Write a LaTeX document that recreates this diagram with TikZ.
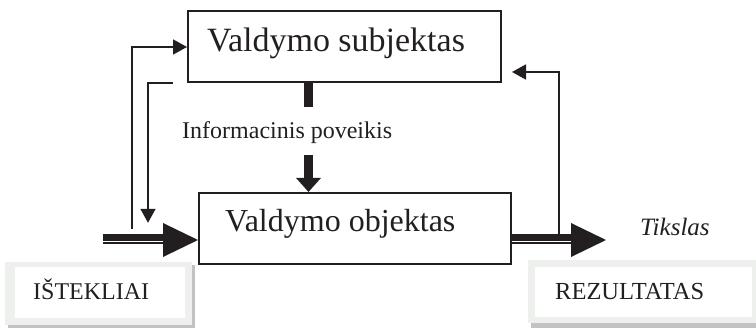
\documentclass[tikz,border=0pt]{standalone}
\usepackage{fontspec}
\setmainfont{Liberation Serif}
\usetikzlibrary{arrows.meta}
\definecolor{ink}{HTML}{231F20}
\definecolor{framegray}{HTML}{EEF0EE}
\definecolor{shadowgray}{HTML}{C2C2C2}
\begin{document}
\begin{tikzpicture}[x=1pt,y=-1pt,
  box/.style={draw=ink, line width=1.8pt, anchor=north west, inner sep=0pt},
  bigtext/.style={font=\fontsize{34}{38}\selectfont, text=ink, inner sep=0pt, anchor=base west},
  midtext/.style={font=\fontsize{24}{28}\selectfont, text=ink, inner sep=0pt, anchor=base west},
  frame/.style={fill=framegray, anchor=north west, inner sep=0pt},
  fb/.style={draw=ink, line width=1.6pt, -{Triangle[length=14pt,width=15pt]}},
  fatline/.style={draw=ink, line width=7pt},
  thinline/.style={draw=ink, line width=2pt}
]
\useasboundingbox (0,0) rectangle (756,328);

% control subject and controlled object
\node[box, minimum width=313pt, minimum height=71pt] (subj) at (187,10) {};
\node[bigtext] (subjlbl) at (207,52) {Valdymo subjektas};
\node[box, minimum width=312pt, minimum height=71pt] (obj) at (198,192) {};
\node[bigtext, font=\fontsize{32}{36}\selectfont] (objlbl) at (225,232) {Valdymo objektas};

% information influence from subject to object
\coordinate (infoX) at (308.5,0);
\draw[draw=ink, line width=9pt] (subj.south -| infoX) -- ++(0,24);
\node[midtext] (info) at (182,139) {Informacinis poveikis};
\coordinate (infoStart) at (308.5,155);
\draw[draw=ink, line width=9pt, -{Triangle[length=14pt,width=24pt]}] (infoStart) -- (obj.north -| infoX);

% resources entering the object
\coordinate (inStart) at (103,240);
\coordinate (inTip) at (obj.west |- inStart);
\draw[fatline] ([yshift=2.5pt]inStart) -- ([yshift=2.5pt,xshift=-34pt]inTip);
\draw[thinline] ([yshift=-3pt]inStart) -- ([yshift=-3pt,xshift=-34pt]inTip);
\fill[ink] (inTip) -- ++(-35,17) -- ++(0,-34) -- cycle;

% result leaving the object
\coordinate (outStart) at (obj.east |- inStart);
\coordinate (outTip) at (606,240);
\draw[fatline] ([yshift=2.5pt]outStart) -- ([yshift=2.5pt,xshift=-34pt]outTip);
\draw[thinline] ([yshift=-3pt]outStart) -- ([yshift=-3pt,xshift=-34pt]outTip);
\fill[ink] (outTip) -- ++(-35,17) -- ++(0,-34) -- cycle;
\node[midtext, font=\fontsize{25}{29}\selectfont\itshape] (goal) at (640,236) {Tikslas};

% feedback loops
\coordinate (fbLeft) at (132,229);
\coordinate (fbLeftY) at (0,47);
\draw[fb] (fbLeft) -- (fbLeft |- fbLeftY) -- (subj.west |- fbLeftY);
\coordinate (fbIn) at ([xshift=-14pt]subj.south west);
\draw[fb] (fbIn) -- ++(-25,0) -- ++(0,140);
\coordinate (fbRight) at (559,235);
\coordinate (fbRightY) at (0,72);
\draw[fb] (fbRight) -- (fbRight |- fbRightY) -- ++(-47,0);

% resources panel
\fill[shadowgray] (8,265) rectangle (195,328);
\node[frame, minimum width=187pt, minimum height=63pt] (istframe) at (5,262) {};
\fill[white] (15,267) rectangle (185,318);
\node[midtext] (ist) at (33,300) {IŠTEKLIAI};

% result panel
\fill[shadowgray] (531,263) rectangle (756,328);
\node[frame, minimum width=228pt, minimum height=63pt] (rezframe) at (528,260) {};
\fill[white] (535,267) rectangle (752,317);
\node[midtext, font=\fontsize{24.5}{28}\selectfont] (rez) at (555,300) {REZULTATAS};
\end{tikzpicture}
\end{document}
